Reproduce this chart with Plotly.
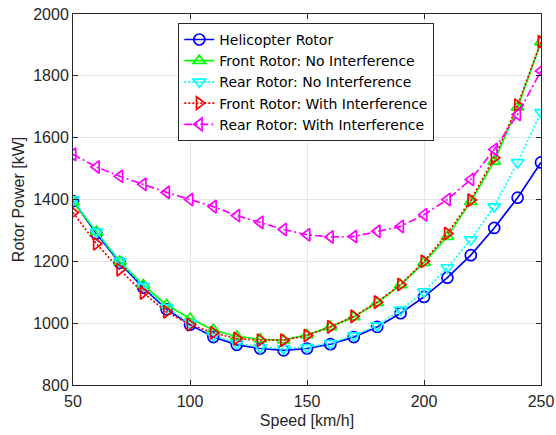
import plotly.graph_objects as go

speed = [50, 60, 70, 80, 90, 100, 110, 120, 130, 140, 150, 160, 170, 180, 190, 200, 210, 220, 230, 240, 250]
heli = [1395, 1290, 1195, 1115, 1045, 995, 955, 930, 918, 912, 918, 932, 955, 988, 1032, 1085, 1147, 1220, 1308, 1406, 1520]
front_no = [1393, 1296, 1199, 1124, 1059, 1015, 978, 957, 948, 945, 962, 988, 1020, 1066, 1124, 1196, 1280, 1393, 1523, 1698, 1909]
rear_no = [1400, 1295, 1200, 1120, 1050, 1000, 960, 935, 922, 918, 922, 935, 960, 992, 1043, 1102, 1180, 1270, 1377, 1520, 1682]
front_with = [1358, 1257, 1173, 1098, 1037, 995, 969, 950, 945, 945, 960, 988, 1022, 1068, 1125, 1200, 1290, 1398, 1535, 1705, 1910]
rear_with = [1546, 1505, 1475, 1449, 1423, 1400, 1377, 1348, 1326, 1303, 1286, 1279, 1280, 1297, 1313, 1351, 1400, 1465, 1562, 1675, 1816]

series = [
    ("Helicopter Rotor", heli, "#0000ff", "solid", "circle-open"),
    ("Front Rotor: No Interference", front_no, "#00ff00", "solid", "triangle-up-open"),
    ("Rear Rotor: No Interference", rear_no, "#00ffff", "2px,2px", "triangle-down-open"),
    ("Front Rotor: With Interference", front_with, "#ff0000", "2px,2px", "triangle-right-open"),
    ("Rear Rotor: With Interference", rear_with, "#ff00ff", "8px,3px,2px,3px", "triangle-left-open"),
]

FONT = "Liberation Sans, Arial"

fig = go.Figure()
for name, vals, color, dash, sym in series:
    fig.add_trace(go.Scatter(
        x=speed, y=vals, name=name, mode="lines+markers",
        line=dict(color=color, width=1.7, dash=dash),
        marker=dict(symbol=sym, size=11, color=color, line=dict(color=color, width=1.7)),
    ))

axis_common = dict(
    showline=True, linecolor="#262626", linewidth=1, mirror="ticks",
    showgrid=True, gridcolor="#e6e6e6", gridwidth=1,
    ticks="inside", ticklen=5, tickcolor="#262626",
    tickfont=dict(family=FONT, size=16, color="#262626"),
    ticklabeloverflow="allow",
    zeroline=False,
)

fig.update_layout(
    width=556, height=435,
    margin=dict(l=73, r=15, t=14, b=50, autoexpand=False),
    paper_bgcolor="white", plot_bgcolor="white",
    showlegend=True,
    legend=dict(
        x=0.225, y=0.976, xanchor="left", yanchor="top",
        bgcolor="white", bordercolor="#262626", borderwidth=1,
        font=dict(family="DejaVu Sans", size=14, color="black"),
        tracegroupgap=0, itemwidth=30,
    ),
    xaxis=dict(range=[50, 250], tickvals=[50, 100, 150, 200, 250],
               ticklabelstandoff=2,
               title=dict(text="Speed [km/h]", font=dict(family=FONT, size=16, color="#262626"), standoff=5),
               **axis_common),
    yaxis=dict(range=[800, 2000], tickvals=[800, 1000, 1200, 1400, 1600, 1800, 2000],
               title=dict(text="Rotor Power [kW]", font=dict(family=FONT, size=16, color="#262626"), standoff=4),
               **axis_common),
)

fig.write_html("out.html", config={"displayModeBar": False},
               post_script="document.body.style.margin='0';")
